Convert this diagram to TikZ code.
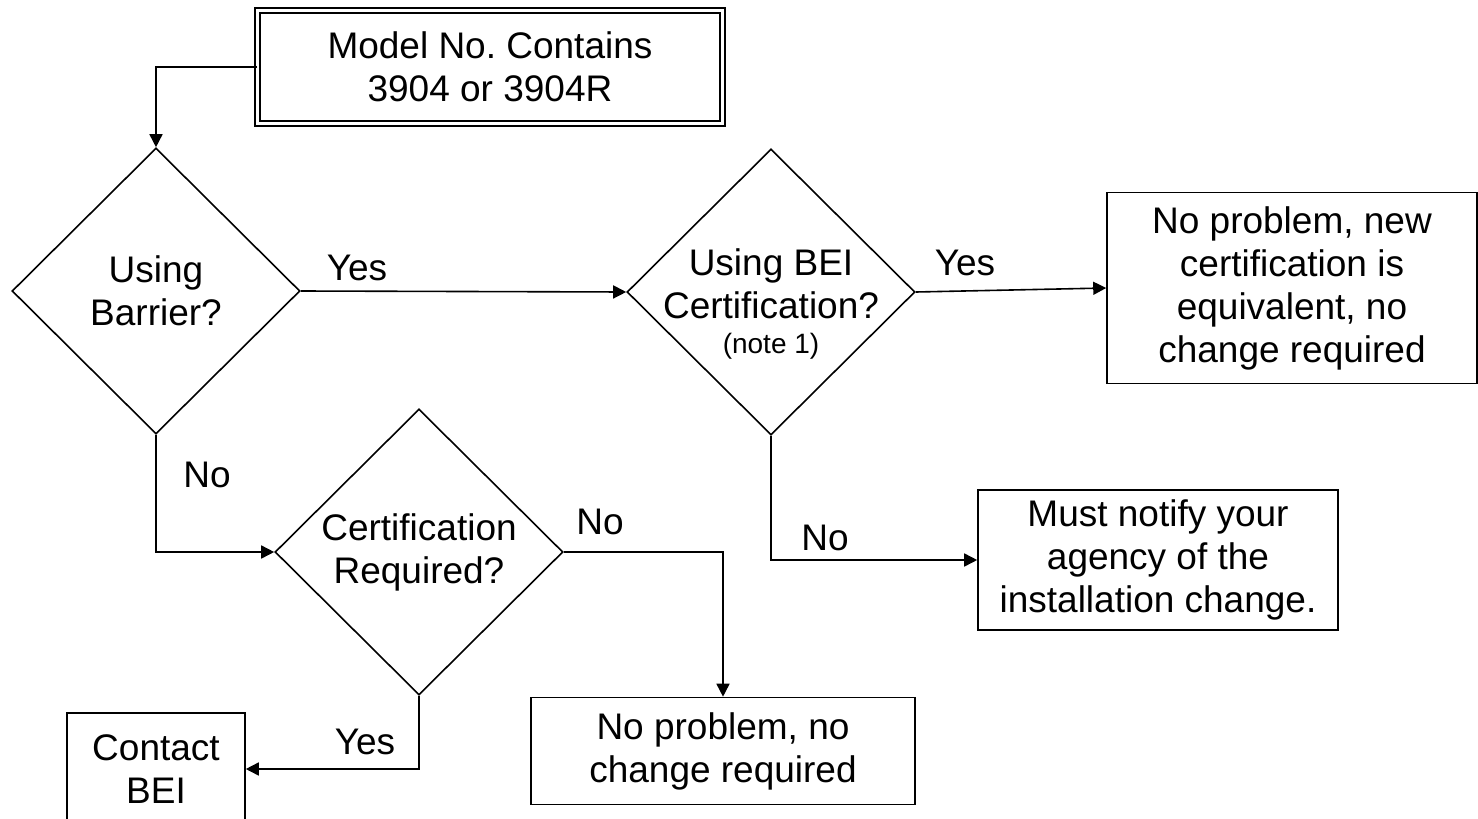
\documentclass[tikz,border=0pt]{standalone}
\usepackage{fontspec}
\setmainfont{Liberation Sans}
\tikzstyle{box}=[draw, line width=0.8pt, align=center, inner sep=0pt]
\tikzstyle{decision}=[diamond, draw, line width=0.8pt, align=center, inner sep=0pt, minimum width=144pt, minimum height=143pt]
\tikzstyle{arrow}=[line width=0.8pt,-{Triangle[length=6.5pt,width=6.5pt]}]
\usetikzlibrary{shapes.geometric,arrows.meta,positioning,calc}

\begin{document}
\begin{tikzpicture}[x=0.5pt,y=-0.5pt,font=\fontsize{18.5}{21.5}\selectfont]
    \useasboundingbox (0,0) rectangle (1478,819);
    \clip (0,0) rectangle (1478,819);
    \node [box, double, double distance=1.8pt, minimum width=232.5pt, minimum height=56.5pt] (model) at (490,67) {Model No.\ Contains\\3904 or 3904R};
    \node [decision] (barrier) at (156,291) {Using\\Barrier?};
    \node [decision] (beicert) at (771,292) {};
    \node [align=center, inner sep=0pt] (beitext) at (771,304) {Using BEI\\Certification?\\[-4pt]{\fontsize{14}{17}\selectfont (note 1)}};
    \node [decision] (reqcert) at (419,552) {Certification\\Required?};
    \node [box, minimum width=185pt, minimum height=95.5pt] (newcert) at (1292,288) {No problem, new\\certification is\\equivalent, no\\change required};
    \node [box, minimum width=180pt, minimum height=70pt] (notify) at (1158,560) {Must notify your\\agency of the\\installation change.};
    \node [box, minimum width=192pt, minimum height=53.5pt] (nochange) at (723,751) {No problem, no\\change required};
    \node [box, minimum width=89pt, minimum height=56pt] (contact) at (156,769) {Contact\\BEI};
    % branch labels
    \node (yesbar) at (357,268) {Yes};
    \node (yesbei) at (965,263) {Yes};
    \node (nobar) at (207,475) {No};
    \node (noreq) at (600,522) {No};
    \node (nobei) at (825,538) {No};
    \node (yesreq) at (365,742) {Yes};
    \draw[arrow] (model.west) -| (barrier.north);
    \draw[arrow] (barrier.east) -- (beicert.west);
    \draw[arrow] (beicert.east) -- (newcert.west);
    \draw[arrow] (beicert.south) |- (notify.west);
    \draw[arrow] (barrier.south) |- (reqcert.west);
    \draw[arrow] (reqcert.east) -| (nochange.north);
    \draw[arrow] (reqcert.south) |- (contact.east);
\end{tikzpicture}
\end{document}
